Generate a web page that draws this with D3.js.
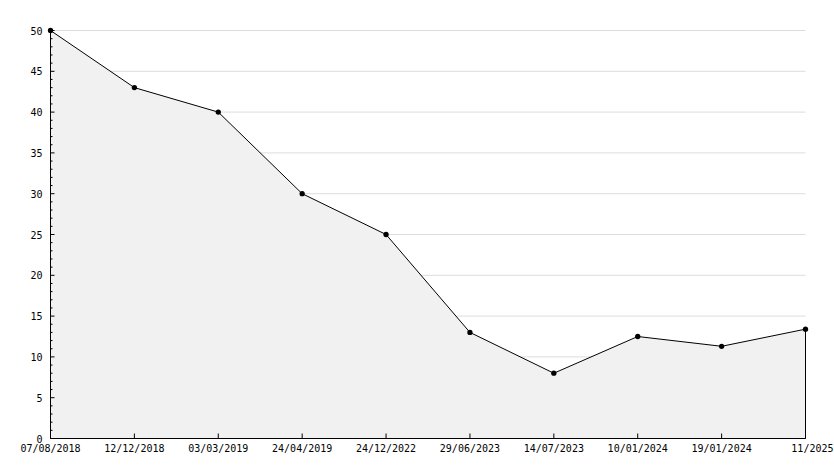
<!DOCTYPE html>
<html><head><meta charset="utf-8">
<script src="https://cdn.jsdelivr.net/npm/d3@7"></script>
<style>body{margin:0;background:#fff}text{font-family:"DejaVu Sans Mono",monospace;font-size:10px;fill:#000}</style>
</head><body><script>
const dates = ["07/08/2018","12/12/2018","03/03/2019","24/04/2019","24/12/2022","29/06/2023","14/07/2023","10/01/2024","19/01/2024","11/2025"];
const values = [50, 43, 40, 30, 25, 13, 8, 12.5, 11.3, 13.4];
const yTicks = [0,5,10,15,20,25,30,35,40,45,50];

const W = 834, H = 468;
const svg = d3.select("body").append("svg").attr("width", W).attr("height", H);
const x = d3.scalePoint().domain(d3.range(dates.length)).range([50.5, 805.5]);
const y = d3.scaleLinear().domain([0, 50]).range([438.5, 30.5]);

// gridlines
svg.append("g").selectAll("line").data(yTicks.slice(1)).join("line")
    .attr("x1", 50.5).attr("x2", 805.5).attr("y1", d => y(d)).attr("y2", d => y(d))
    .attr("stroke", "#ddd");

const pts = values.map((v, i) => [x(i), y(v)]);
svg.append("path")
    .datum(values)
    .attr("d", d3.area().x((d, i) => x(i)).y0(y(0)).y1(d => y(d)))
    .attr("fill", "#f1f1f1");
svg.append("path")
    .datum(values)
    .attr("d", d3.line().x((d, i) => x(i)).y(d => y(d)))
    .attr("fill", "none").attr("stroke", "#000");
svg.append("line").attr("x1", 805.5).attr("x2", 805.5).attr("y1", y(values[values.length-1])).attr("y2", y(0)).attr("stroke", "#000");

// y axis
const ya = svg.append("g").attr("transform", "translate(50.5,0)");
ya.append("line").attr("y1", y(50)).attr("y2", y(0)).attr("stroke", "#000");
ya.selectAll(".mi").data(d3.range(0, 51)).join("line")
    .attr("x1", 0).attr("x2", d => d % 5 ? 2 : 4).attr("y1", d => y(d)).attr("y2", d => y(d)).attr("stroke", "#000");
ya.selectAll("text").data(yTicks).join("text")
    .attr("x", -8).attr("y", d => y(d) + 4).attr("text-anchor", "end").text(d => d);

// x axis
const xa = svg.append("g");
xa.append("line").attr("x1", 50.5).attr("x2", 805.5).attr("y1", y(0)).attr("y2", y(0)).attr("stroke", "#000");
xa.selectAll(".t").data(d3.range(dates.length)).join("line")
    .attr("x1", d => x(d)).attr("x2", d => x(d)).attr("y1", y(0)).attr("y2", y(0) - 5).attr("stroke", "#000");
xa.selectAll("text").data(dates).join("text")
    .attr("x", (d, i) => x(i)).attr("y", 452).attr("text-anchor", (d, i) => i === dates.length - 1 ? "end" : "middle")
    .attr("dx", (d, i) => i === dates.length - 1 ? 28 : 0).text(d => d);

svg.append("g").selectAll("path").data(pts).join("path")
    .attr("transform", d => `translate(${d[0]},${d[1]})`)
    .attr("d", d3.symbol(d3.symbolCircle, 22)).attr("fill", "#000");
</script></body></html>
